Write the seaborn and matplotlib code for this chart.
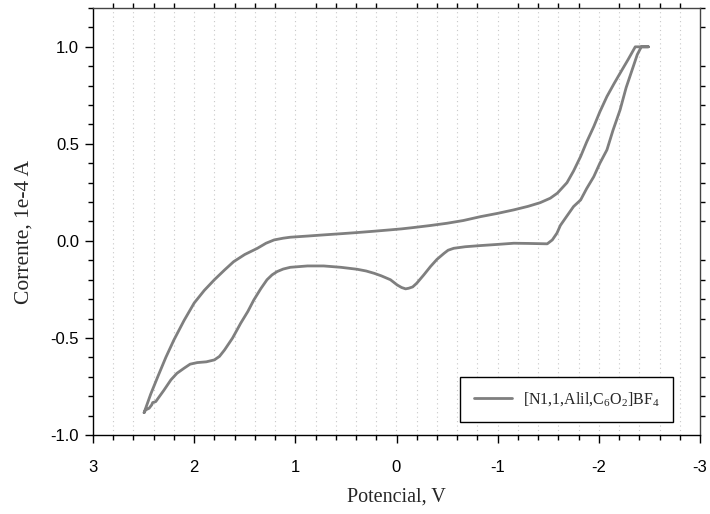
import matplotlib
matplotlib.use("Agg")
import matplotlib.pyplot as plt
from matplotlib.ticker import MultipleLocator, FixedLocator
import numpy as np
import pandas as pd
import seaborn as sns

# Cyclic voltammogram: potential (V) and current (1e-4 A), traced as one closed sweep
potential = [2.495, 2.43, 2.36, 2.28, 2.20, 2.10, 2.00, 1.90, 1.80, 1.70, 1.61, 1.50,
             1.375, 1.29, 1.21, 1.12, 1.05, 0.88, 0.72, 0.55, 0.39, 0.22, 0.06, -0.05,
             -0.17, -0.33, -0.50, -0.66, -0.83, -1.00, -1.16, -1.30, -1.42, -1.52,
             -1.59, -1.685, -1.75, -1.82, -1.88, -1.95, -2.01, -2.08, -2.15, -2.21,
             -2.29, -2.36, -2.42, -2.49, -2.42, -2.38, -2.34, -2.27, -2.21, -2.14,
             -2.08, -2.01, -1.95, -1.88, -1.82, -1.75, -1.68, -1.62, -1.586, -1.54,
             -1.49, -1.30, -1.16, -1.00, -0.83, -0.68, -0.566, -0.51, -0.47, -0.40,
             -0.336, -0.27, -0.20, -0.16, -0.12, -0.09, -0.05, -0.007, 0.06, 0.15,
             0.22, 0.30, 0.39, 0.55, 0.72, 0.88, 1.05, 1.12, 1.18, 1.23, 1.28, 1.34,
             1.41, 1.47, 1.54, 1.62, 1.70, 1.75, 1.80, 1.88, 1.97, 2.04, 2.10, 2.17,
             2.23, 2.30, 2.38, 2.41, 2.42, 2.445, 2.48, 2.495]
current = [-0.885, -0.79, -0.70, -0.60, -0.51, -0.41, -0.32, -0.255, -0.20, -0.15, -0.107,
           -0.07, -0.038, -0.012, 0.005, 0.014, 0.019, 0.025, 0.031, 0.037, 0.043, 0.050,
           0.057, 0.062, 0.069, 0.079, 0.091, 0.105, 0.125, 0.142, 0.160, 0.178, 0.197,
           0.220, 0.246, 0.30, 0.36, 0.435, 0.51, 0.589, 0.665, 0.744, 0.81, 0.864,
           0.935, 1.0, 1.0, 1.0, 1.0, 0.96, 0.898, 0.79, 0.675, 0.57, 0.469, 0.40,
           0.331, 0.27, 0.211, 0.177, 0.125, 0.08, 0.04, 0.005, -0.015, -0.013, -0.012,
           -0.018, -0.024, -0.030, -0.038, -0.048, -0.064, -0.095, -0.132, -0.175,
           -0.218, -0.237, -0.244, -0.247, -0.240, -0.227, -0.200, -0.180, -0.167,
           -0.155, -0.146, -0.136, -0.129, -0.129, -0.136, -0.145, -0.158, -0.175,
           -0.200, -0.245, -0.304, -0.364, -0.424, -0.500, -0.562, -0.595, -0.613,
           -0.623, -0.627, -0.635, -0.656, -0.682, -0.716, -0.77, -0.828, -0.833,
           -0.845, -0.862, -0.871, -0.885]

x_ticks = [3, 2, 1, 0, -1, -2, -3]
x_tick_labels = ["3", "2", "1", "0", "-1", "-2", "-3"]
y_ticks = [-1.0, -0.5, 0.0, 0.5, 1.0]
y_tick_labels = ["-1.0", "-0.5", "0.0", "0.5", "1.0"]

label = "[N1,1,Alil,C$_6$O$_2$]BF$_4$"
df = pd.DataFrame({"Potencial": potential, "Corrente": current,
                   "serie": [label] * len(potential)})

sns.set_theme(style="white")
plt.rcParams["font.family"] = ["Liberation Sans", "DejaVu Sans"]
plt.rcParams["mathtext.fontset"] = "custom"
plt.rcParams["mathtext.rm"] = "Liberation Serif"
plt.rcParams["mathtext.it"] = "Liberation Serif:italic"

fig = plt.figure(figsize=(7.1, 5.14), dpi=100)
ax = fig.add_axes([93 / 710, 1 - 435 / 514, (700 - 93) / 710, (435 - 8) / 514])

sns.lineplot(data=df, x="Potencial", y="Corrente", hue="serie", sort=False,
             estimator=None, palette=["#7f7f7f"], linewidth=2.0, ax=ax)

ax.set_xlim(3, -3)
ax.set_ylim(-1.0, 1.2)

# Major ticks on bottom/left, minor ticks all round
ax.xaxis.set_major_locator(FixedLocator(x_ticks))
ax.xaxis.set_minor_locator(MultipleLocator(0.2))
ax.yaxis.set_major_locator(FixedLocator(y_ticks))
ax.yaxis.set_minor_locator(MultipleLocator(0.1))
ax.set_xticklabels(x_tick_labels)
ax.set_yticklabels(y_tick_labels)
ax.tick_params(axis="both", which="major", direction="out", length=6, width=1.0,
               color="black", labelsize=12, labelcolor="black",
               bottom=True, left=True, top=False, right=False)
ax.tick_params(axis="x", which="major", pad=12)
ax.tick_params(axis="y", which="major", pad=4)
ax.tick_params(axis="both", which="minor", direction="out", length=3.5, width=1.0,
               color="black", bottom=True, left=True, top=True, right=True)

# vertical dotted grid every 0.2 V
for xv in np.arange(-2.8, 3.0, 0.2):
    ax.axvline(xv, color="#c8c8c8", linestyle=(0, (1, 3)), linewidth=0.8, zorder=0)

for side in ["left", "bottom"]:
    ax.spines[side].set_color("black")
    ax.spines[side].set_linewidth(1.0)
for side in ["top", "right"]:
    ax.spines[side].set_color("#444444")
    ax.spines[side].set_linewidth(1.0)

ax.set_xlabel("Potencial, V", fontfamily="Liberation Serif", fontsize=14.5)
ax.set_ylabel("Corrente, 1e-4 A", fontfamily="Liberation Serif", fontsize=15.5)
ax.xaxis.label.set_va("center")
ax.yaxis.label.set_va("center")
ax.xaxis.set_label_coords(0.5, (435 - 497) / 427)
ax.yaxis.set_label_coords((24 - 93) / 607, (435 - 232) / 427)

handles, labels = ax.get_legend_handles_labels()
leg = ax.legend(handles, labels, loc="lower right",
                bbox_to_anchor=((673 - 93) / 607, (435 - 422) / 427),
                borderaxespad=0, frameon=True, fancybox=False, edgecolor="black",
                framealpha=1, prop={"family": "Liberation Serif", "size": 11.5},
                handlelength=2.4, borderpad=0.85, handletextpad=0.65)
leg.get_frame().set_linewidth(1.0)

fig.savefig("out.png", dpi=100)
